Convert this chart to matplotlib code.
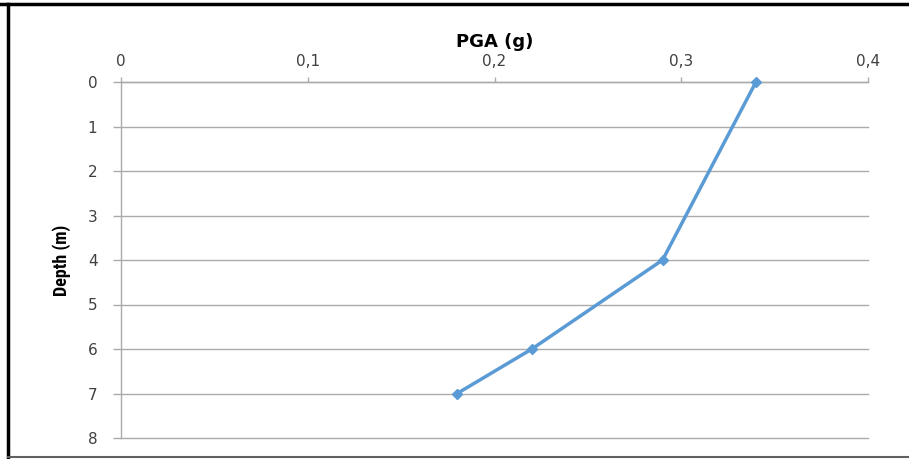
import matplotlib
matplotlib.use("Agg")
import matplotlib.pyplot as plt
from matplotlib import font_manager
from matplotlib.lines import Line2D
from matplotlib.ticker import FuncFormatter

# Peak ground acceleration profile versus depth
depth_m = [0, 4, 6, 7]
pga_g = [0.34, 0.29, 0.22, 0.18]
x_ticks = [0, 0.1, 0.2, 0.3, 0.4]
y_ticks = [0, 1, 2, 3, 4, 5, 6, 7, 8]

# Pick a bold condensed face for the vertical axis title
bold_faces = {f.name for f in font_manager.fontManager.ttflist
              if (f.weight if isinstance(f.weight, int) else 400) >= 700
              or f.weight == "bold"}
narrow_family = "DejaVu Sans"
for cand in ["Roboto Condensed", "Open Sans Condensed", "PT Sans Narrow",
             "Archivo Narrow", "Sofia Sans Condensed", "Asap Condensed",
             "Saira SemiCondensed"]:
    if cand in bold_faces:
        narrow_family = cand
        break

W, H = 909, 459
fig = plt.figure(figsize=(W / 100, H / 100), dpi=100)
ax = fig.add_axes([121 / W, 1 - 438 / H, (868 - 121) / W, (438 - 82) / H])

grid_c = "#ababab"
ax.plot(pga_g, depth_m, color="#5b9bd5", lw=2.5, marker="D", ms=5.5,
        markeredgecolor="#5b9bd5", markerfacecolor="#5b9bd5", zorder=3,
        clip_on=False)

ax.set_xlim(0, 0.4)
ax.set_ylim(8, 0)
ax.set_xticks(x_ticks)
ax.set_yticks(y_ticks)
ax.xaxis.set_major_formatter(FuncFormatter(lambda v, p: ("%g" % v).replace(".", ",")))
ax.xaxis.tick_top()
ax.xaxis.set_label_position("top")

ax.yaxis.grid(True, color=grid_c, lw=1.0)
for gl in ax.yaxis.get_gridlines():
    gl.set_clip_on(False)
ax.set_axisbelow(True)
for s in ["right", "bottom"]:
    ax.spines[s].set_visible(False)
for s in ["top", "left"]:
    ax.spines[s].set_color(grid_c)
    ax.spines[s].set_linewidth(1.0)

ax.tick_params(axis="x", colors=grid_c, length=3.6, width=1, direction="out",
               labelcolor="#404040", labelsize=11, pad=6)
ax.tick_params(axis="y", colors=grid_c, length=6, width=1, direction="out",
               labelcolor="#404040", labelsize=11, pad=11)
for lab in ax.get_xticklabels() + ax.get_yticklabels():
    lab.set_family("DejaVu Sans")

ax.set_xlabel("PGA (g)", fontsize=13, fontweight="bold", family="DejaVu Sans",
              labelpad=5)
ax.set_ylabel("Depth (m)", fontsize=13, fontweight="bold",
              family=[narrow_family, "DejaVu Sans"], labelpad=12)

# Outer frame of the chart area
fig.add_artist(Line2D([0, 1], [1 - 4 / H, 1 - 4 / H], transform=fig.transFigure,
                      color="black", lw=2.5))
fig.add_artist(Line2D([8 / W, 8 / W], [1 - 4 / H, 1 - 457 / H], transform=fig.transFigure,
                      color="black", lw=2.5))
fig.add_artist(Line2D([8 / W, 1], [1 - 457 / H, 1 - 457 / H], transform=fig.transFigure,
                      color="#606060", lw=1.5))

fig.savefig("out.png", dpi=100)
